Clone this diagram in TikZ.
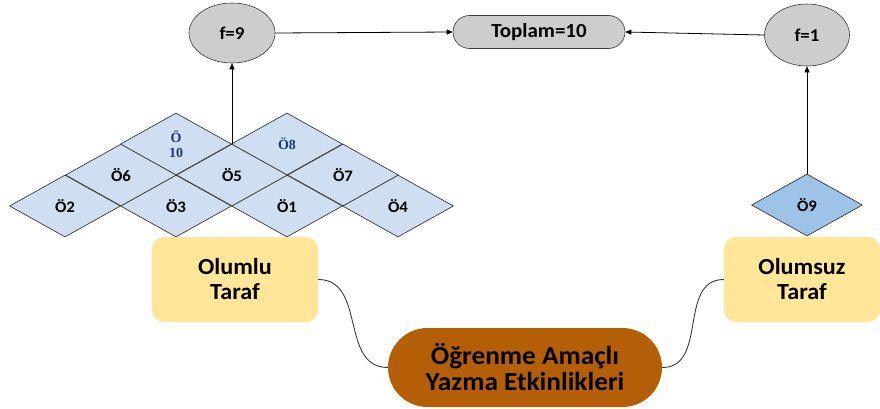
\documentclass[tikz,border=0pt]{standalone}
\usepackage{fontspec}
\setmainfont{Carlito}[FakeStretch=1.05]
\newfontfamily\cellserif{Liberation Serif}
\usetikzlibrary{shapes.geometric,shapes.misc,arrows.meta}
\definecolor{cellblue}{HTML}{CFDFF1}
\definecolor{cellblue2}{HTML}{9DC3E6}
\definecolor{edgegray}{HTML}{3A3A3A}
\definecolor{sidebox}{HTML}{FFE699}
\definecolor{rootbox}{HTML}{B45F06}
\definecolor{sumgray}{HTML}{CDCDCD}
\definecolor{navy}{HTML}{1F3864}
\begin{document}
\begin{tikzpicture}[x=1pt,y=-1pt,
  cell/.style={diamond, draw=edgegray, fill=cellblue, line width=0.7pt,
    minimum width=111pt, minimum height=62pt, inner sep=0pt,
    font=\bfseries\fontsize{16}{17}\selectfont},
  serifcell/.style={font=\cellserif\bfseries\fontsize{14}{15}\selectfont, text=navy, align=center},
  freq/.style={ellipse, draw=edgegray, fill=sumgray, line width=0.6pt,
    minimum width=86pt, minimum height=60pt, inner sep=0pt,
    font=\bfseries\fontsize{18}{20}\selectfont},
  side/.style={rounded corners=12pt, fill=sidebox, minimum height=85pt,
    align=center, font=\bfseries\fontsize{23}{25}\selectfont},
  link/.style={draw=black, line width=0.8pt, -{Triangle[length=6pt,width=5pt]}},
  branch/.style={draw=edgegray, line width=0.9pt}]
\useasboundingbox (0,0) rectangle (880,409);

% bottom row of the cell grid
\node[cell] (o2) at (65,206) {Ö2};
\node[cell] (o3) at (176,206) {Ö3};
\node[cell] (o1) at (287,206) {Ö1};
\node[cell] (o4) at (398,206) {Ö4};
% middle row
\node[cell] (o6) at (121,175) {Ö6};
\node[cell] (o5) at (232,175) {Ö5};
\node[cell] (o7) at (343,175) {Ö7};
% top row
\node[cell, serifcell] (o10) at (176,144) {Ö\\10};
\node[cell, serifcell] (o8) at (287,144) {Ö8};

% single cell on the right
\node[cell, fill=cellblue2] (o9) at (807,205) {Ö9};

% frequency counts and total
\node[freq] (f9) at (232,33) {f=9};
\node[freq, minimum width=85pt, minimum height=62pt] (f1) at (807,35) {f=1};
\node[rounded rectangle, draw=edgegray, fill=sumgray, line width=0.6pt,
  minimum width=172pt, minimum height=33pt, inner sep=0pt,
  font=\bfseries\fontsize{20}{22}\selectfont] (sum) at (539,32) {Toplam=10};

\draw[link] (o5.north) -- (f9.south);
\draw[link] (o9.north) -- (f1.south);
\draw[link] (f9.east) -- (sum.west);
\draw[link] (f1.west) -- (sum.east);

% sides and root
\node[side, minimum width=166pt] (pos) at (235,279.5) {Olumlu\\Taraf};
\node[side, minimum width=156pt] (neg) at (802,279.5) {Olumsuz\\Taraf};
\node[rounded rectangle, fill=rootbox, minimum width=274pt, minimum height=79pt,
  inner sep=0pt, align=center, font=\bfseries\fontsize{26}{26}\selectfont] (root) at (525,367.5)
  {Öğrenme Amaçlı\\Yazma Etkinlikleri};

\draw[branch] (pos.east) to[out=0, in=180, looseness=1.1] (root.west);
\draw[branch] (root.east) to[out=0, in=180, looseness=1.1] (neg.west);
\end{tikzpicture}
\end{document}
